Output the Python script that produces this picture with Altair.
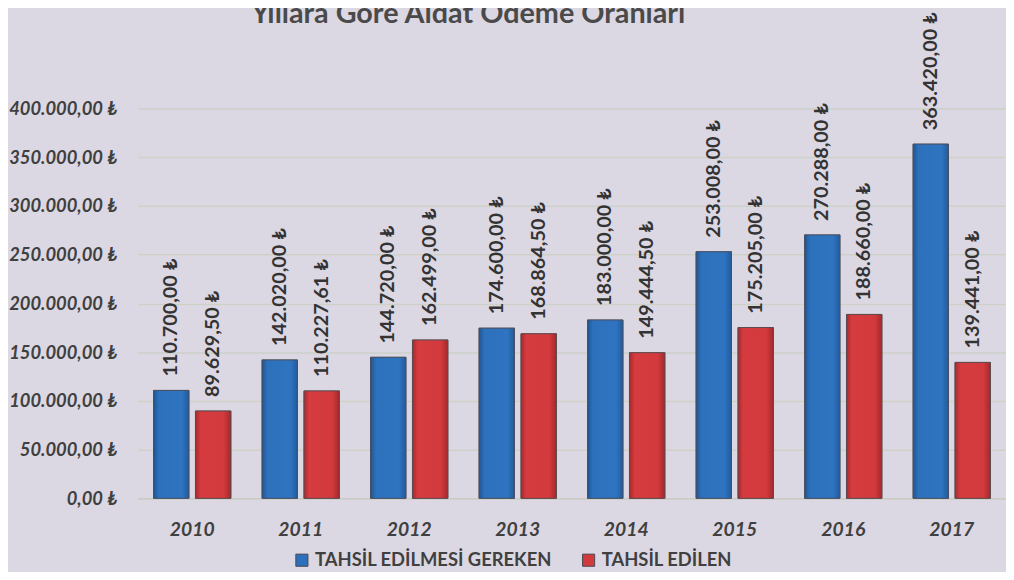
import altair as alt
import pandas as pd

years = ["2010", "2011", "2012", "2013", "2014", "2015", "2016", "2017"]
series_names = ["TAHSİL EDİLMESİ GEREKEN", "TAHSİL EDİLEN"]
gereken = [110700.00, 142020.00, 144720.00, 174600.00, 183000.00, 253008.00, 270288.00, 363420.00]
edilen = [89629.50, 110227.61, 162499.00, 168864.50, 149444.50, 175205.00, 188660.00, 139441.00]
y_ticks = [0, 50000, 100000, 150000, 200000, 250000, 300000, 350000, 400000]
title_text = "Yıllara Göre Aidat Ödeme Oranları"


def tl(v):
    s = f"{v:,.2f}".replace(",", "X").replace(".", ",").replace("X", ".")
    return s + " ₺"


rows = []
for i, y in enumerate(years):
    rows.append({"year": y, "series": series_names[0], "value": gereken[i], "label": tl(gereken[i])})
    rows.append({"year": y, "series": series_names[1], "value": edilen[i], "label": tl(edilen[i])})
df = pd.DataFrame(rows)

FONT = "Lato"
TXT = "#404040"

x_enc = alt.X("year:N", sort=years,
              scale=alt.Scale(paddingInner=0.287, paddingOuter=0.1435),
              axis=alt.Axis(title=None, labelAngle=0, labelFont=FONT, labelFontSize=19.5,
                            labelFontWeight="bold", labelFontStyle="italic", labelColor=TXT,
                            labelPadding=22, ticks=False, domain=True, domainColor="#c9cbc4",
                            domainWidth=1.5, grid=False))
xo_enc = alt.XOffset("series:N", sort=series_names, scale=alt.Scale(paddingInner=0.155))
y_enc = alt.Y("value:Q", scale=alt.Scale(domain=[0, 400000], nice=False),
              axis=alt.Axis(title=None, values=y_ticks, format=",.2f",
                            labelExpr="replace(replace(replace(datum.label, ',', '#'), '.', ','), '#', '.') + ' ₺'",
                            labelFont=FONT, labelFontSize=18.5, labelFontWeight="bold",
                            labelFontStyle="italic", labelColor=TXT, labelPadding=21,
                            ticks=False, domain=False, grid=True, gridColor="#cdd1c8",
                            gridWidth=1.5))

base = alt.Chart(df)

bars = base.mark_bar(stroke="#55555a", strokeWidth=1, strokeOpacity=0.6).encode(
    x=x_enc, xOffset=xo_enc, y=y_enc,
    color=alt.Color("series:N", sort=series_names,
                    scale=alt.Scale(domain=series_names, range=["#2c6fba", "#d33a3d"]),
                    legend=alt.Legend(title=None, orient="none", direction="horizontal",
                                      legendX=156, legendY=446, columns=2, columnPadding=27,
                                      symbolType="square", symbolSize=150,
                                      symbolStrokeColor="#4a4a55", symbolStrokeWidth=1,
                                      labelFont=FONT, labelFontSize=18.5, labelFontWeight="bold",
                                      labelColor=TXT, labelLimit=400, labelOffset=4)),
)

blue_grad = alt.Gradient(gradient="linear", x1=0, x2=1, y1=0, y2=0, stops=[
    alt.GradientStop(color="#1f5590", offset=0),
    alt.GradientStop(color="#2d71bc", offset=0.15),
    alt.GradientStop(color="#2f74c0", offset=0.8),
    alt.GradientStop(color="#215b9c", offset=1)])
red_grad = alt.Gradient(gradient="linear", x1=0, x2=1, y1=0, y2=0, stops=[
    alt.GradientStop(color="#a8292c", offset=0),
    alt.GradientStop(color="#d63c3f", offset=0.15),
    alt.GradientStop(color="#d23a3d", offset=0.8),
    alt.GradientStop(color="#a4282b", offset=1)])

blue_layer = base.transform_filter(alt.datum.series == series_names[0]).mark_bar(
    color=blue_grad, stroke="#4a4f60", strokeWidth=1).encode(x=x_enc, xOffset=xo_enc, y=y_enc)
red_layer = base.transform_filter(alt.datum.series == series_names[1]).mark_bar(
    color=red_grad, stroke="#5a4a4f", strokeWidth=1).encode(x=x_enc, xOffset=xo_enc, y=y_enc)

labels = base.mark_text(angle=270, align="left", baseline="middle", dx=14,
                        font=FONT, fontSize=20, fontWeight="bold", color="#333333").encode(
    x=x_enc, xOffset=xo_enc, y=y_enc, text="label:N")

title = alt.Chart(pd.DataFrame({"t": [title_text]})).mark_text(
    align="center", baseline="alphabetic", font=FONT, fontSize=29, fontWeight="bold",
    color="#4a4a4a").encode(x=alt.value(333), y=alt.value(-86), text="t:N")

chart = alt.layer(bars, blue_layer, red_layer, labels, title).properties(
    width=875, height=393,
    autosize=alt.AutoSizeParams(type="none"),
    padding={"left": 131, "top": 99, "right": 0, "bottom": 72},
    background="#dcd8e3",
).configure_view(stroke=None)

chart.save("out.html", embed_options={"renderer": "svg", "actions": False})
